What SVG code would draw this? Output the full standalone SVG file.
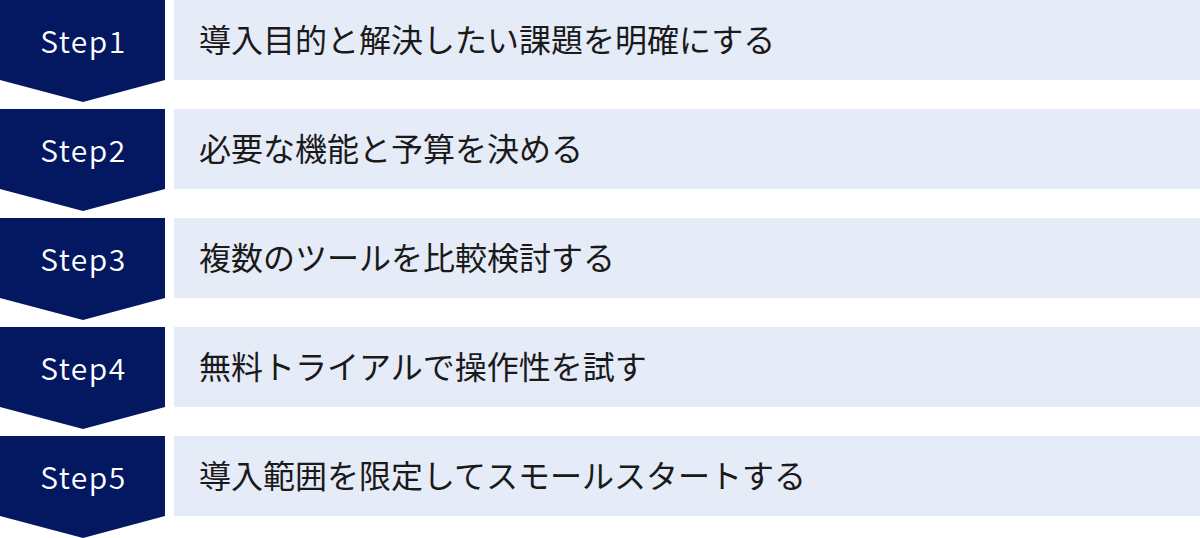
<svg xmlns="http://www.w3.org/2000/svg" width="1200" height="538" viewBox="0 0 1200 538">
<style>
.badge{fill:#041862}
.bar{fill:#e6ebf8}
.step{font-family:"Noto Sans CJK JP","Noto Sans",sans-serif;font-size:30px;font-weight:350;fill:#ffffff;text-anchor:middle;letter-spacing:1.5px}
.lbl{font-family:"Noto Sans CJK JP","Noto Sans",sans-serif;font-size:32px;fill:#1a1a1a}
</style>
<defs>
<polygon id="chev" points="0,0 165,0 165,80 83,102 0,80"/>
</defs>
<g id="step1">
<use href="#chev" class="badge"/>
<rect class="bar" x="174" y="0" width="1026" height="80"/>
<text class="step" x="83.5" y="52.5">Step1</text>
<text class="lbl" x="199" y="52">導入目的と解決したい課題を明確にする</text>
</g>
<g id="step2" transform="translate(0,109)">
<use href="#chev" class="badge"/>
<rect class="bar" x="174" y="0" width="1026" height="80"/>
<text class="step" x="83.5" y="52.5">Step2</text>
<text class="lbl" x="199" y="52">必要な機能と予算を決める</text>
</g>
<g id="step3" transform="translate(0,218)">
<use href="#chev" class="badge"/>
<rect class="bar" x="174" y="0" width="1026" height="80"/>
<text class="step" x="83.5" y="52.5">Step3</text>
<text class="lbl" x="199" y="52">複数のツールを比較検討する</text>
</g>
<g id="step4" transform="translate(0,327)">
<use href="#chev" class="badge"/>
<rect class="bar" x="174" y="0" width="1026" height="80"/>
<text class="step" x="83.5" y="52.5">Step4</text>
<text class="lbl" x="199" y="52">無料トライアルで操作性を試す</text>
</g>
<g id="step5" transform="translate(0,436)">
<use href="#chev" class="badge"/>
<rect class="bar" x="174" y="0" width="1026" height="80"/>
<text class="step" x="83.5" y="52.5">Step5</text>
<text class="lbl" x="199" y="52">導入範囲を限定してスモールスタートする</text>
</g>
</svg>
